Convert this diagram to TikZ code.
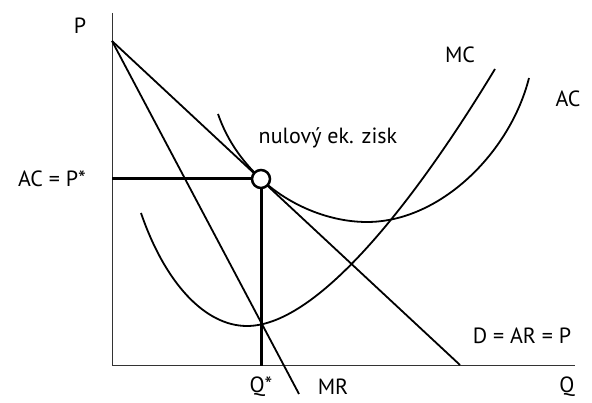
\documentclass[tikz,border=0pt]{standalone}
\usepackage{fontspec}
\setmainfont{PT Sans}
\tikzset{
  axisline/.style={line width=0.9pt, draw=black!80},
  econcurve/.style={line width=1.8pt},
  guideline/.style={line width=3pt},
  txt/.style={font=\fontsize{22}{24}\selectfont, inner sep=0pt}
}
\begin{document}
\begin{tikzpicture}[x=1pt,y=1pt]
\useasboundingbox (0,0) rectangle (592,403);
\coordinate (O) at (112,38);
\coordinate (ytop) at (112,390);
\coordinate (xend) at (575,38);
\coordinate (pmax) at (112,362);
\coordinate (dend) at (460,38);
\coordinate (mrend) at (299,9);
\coordinate (pstar) at (112,224);
\coordinate (qstar) at (261,37);
\draw[axisline] (ytop) -- (O) -- (xend);
\draw[econcurve] (pmax) -- (dend);
\draw[econcurve] (pmax) -- (mrend);
% MC
\draw[econcurve] (141,190) .. controls (165,120) and (205,77) .. (247,77)
  .. controls (320,77) and (420,210) .. (495,334);
% AC
\draw[econcurve] (218,289) .. controls (228,260) and (245,239) .. (261,224)
  .. controls (290,197) and (330,181) .. (367,181)
  .. controls (440,181) and (510,250) .. (529,325);
\node[circle, draw, fill=white, line width=2.5pt, minimum size=18pt, inner sep=0pt] (eq) at (261,224) {};
\draw[guideline] (pstar) -- (eq);
\draw[guideline] (eq) -- (qstar);
% labels
\node[txt] (plabel) at (80,377) {P};
\node[txt, anchor=east] (pstarlabel) at (86,224) {AC = P*};
\node[txt] (zisk) at (328,265) {nulový ek. zisk};
\node[txt] (mclabel) at (460,348) {MC};
\node[txt] (aclabel) at (568,304) {AC};
\node[txt] (dlabel) at (522,67) {D = AR = P};
\node[txt] (qslabel) at (261,16) {Q*};
\node[txt] (mrlabel) at (333,16) {MR};
\node[txt] (qlabel) at (567,16) {Q};
\end{tikzpicture}
\end{document}
